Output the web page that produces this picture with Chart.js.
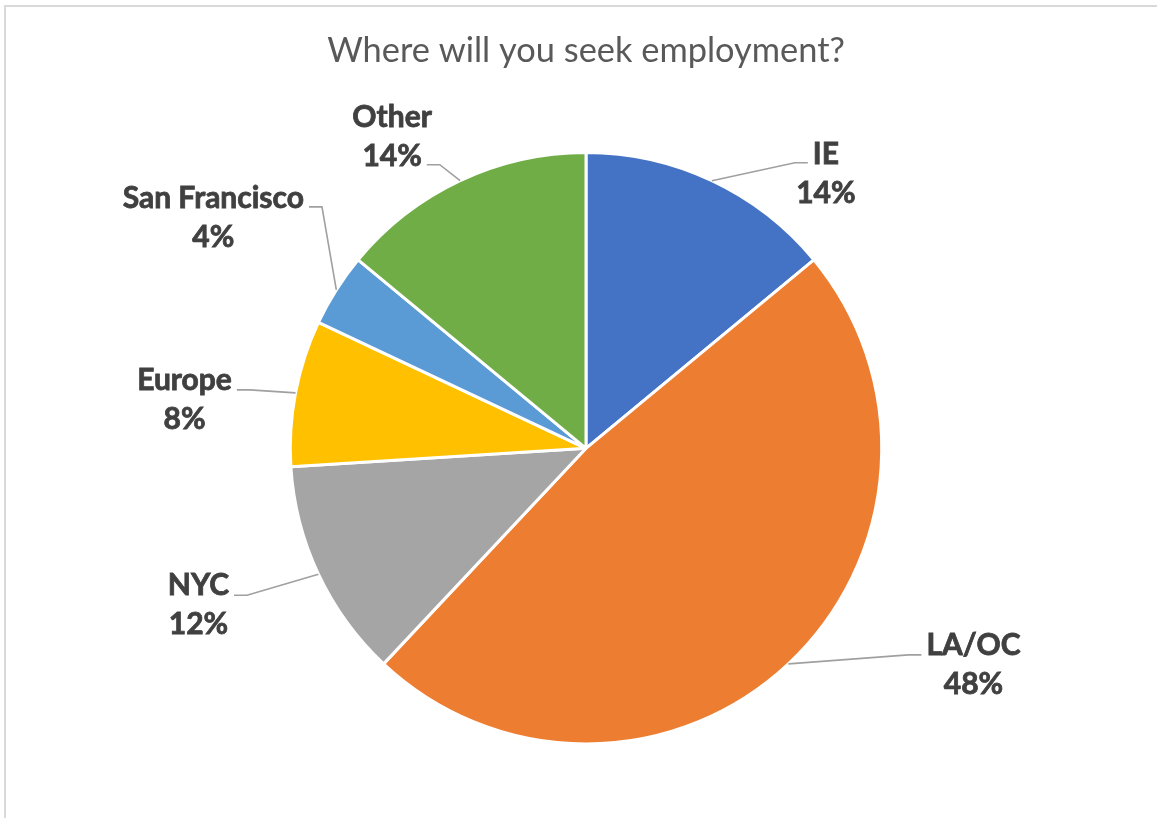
<!DOCTYPE html>
<html>
<head>
<meta charset="utf-8">
<title>Where will you seek employment?</title>
<script src="https://cdn.jsdelivr.net/npm/chart.js@4.4.1/dist/chart.umd.min.js"></script>
<style>
  html, body { margin: 0; padding: 0; background: #fff; }
  #wrap { position: relative; width: 1157px; height: 818px; overflow: hidden; }
</style>
</head>
<body>
<div id="wrap">
  <canvas id="seekChart" width="1157" height="818"></canvas>
</div>
<script>
const regions = ['IE', 'LA/OC', 'NYC', 'Europe', 'San Francisco', 'Other'];
const shares = [14, 48, 12, 8, 4, 14];
const sliceColors = ['#4472C4', '#ED7D31', '#A5A5A5', '#FFC000', '#5B9BD5', '#70AD47'];

// where each label block sits relative to the point on the rim at the slice's middle angle
// side: which side of the text the leader attaches to; stubY: stub height relative to block centre
const labelPlacement = [
  { dx: 114, dy: -7, side: 'left', stubY: -11, line: 0 },
  { dx: 185, dy: 1, side: 'left', stubY: -10, line: 0 },
  { dx: -120, dy: 31, side: 'right', stubY: -10, line: 0 },
  { dx: -111, dy: 7, side: 'right', stubY: -10, line: 0 },
  { dx: -123, dy: -72, side: 'right', stubY: -11, line: 0 },
  { dx: -68, dy: -44, side: 'right', stubY: 28, line: 1 }
];

const LABEL_FONT = 'bold 30px Lato';
const LINE_GAP = 39;

const frame = {
  id: 'frame',
  beforeDraw(chart) {
    const c = chart.ctx;
    c.save();
    c.fillStyle = '#fff';
    c.fillRect(0, 0, chart.width, chart.height);
    c.strokeStyle = '#d9d9d9';
    c.lineWidth = 2;
    c.strokeRect(5, 6, chart.width + 20, chart.height + 20);
    c.restore();
  }
};

const calloutLabels = {
  id: 'calloutLabels',
  afterDatasetsDraw(chart) {
    const c = chart.ctx;
    const arcs = chart.getDatasetMeta(0).data;
    c.save();
    c.font = LABEL_FONT;
    c.textAlign = 'center';
    c.textBaseline = 'middle';
    arcs.forEach((arc, i) => {
      const p = arc.getProps(['x', 'y', 'startAngle', 'endAngle', 'outerRadius'], true);
      const mid = (p.startAngle + p.endAngle) / 2;
      const ex = p.x + Math.cos(mid) * p.outerRadius;
      const ey = p.y + Math.sin(mid) * p.outerRadius;
      const pl = labelPlacement[i];
      const cx = ex + pl.dx;
      const cy = ey + pl.dy;
      const lines = [regions[i], shares[i] + '%'];

      // leader line: short horizontal stub next to the text, then to the rim
      const w = c.measureText(lines[pl.line]).width;
      const sy = cy + pl.stubY;
      const sx0 = pl.side === 'left' ? cx - w / 2 - 5 : cx + w / 2 + 5;
      const sx1 = pl.side === 'left' ? sx0 - 13 : sx0 + 13;
      c.strokeStyle = '#a0a0a0';
      c.lineWidth = 1.6;
      c.beginPath();
      c.moveTo(sx0, sy);
      c.lineTo(sx1, sy);
      c.lineTo(ex, ey);
      c.stroke();

      // heavier bold: fill plus a thin stroke in the same colour
      c.fillStyle = '#404040';
      c.strokeStyle = '#404040';
      c.lineWidth = 0.8;
      lines.forEach((txt, k) => {
        const ty = cy + (k === 0 ? -LINE_GAP / 2 : LINE_GAP / 2);
        c.fillText(txt, cx, ty);
        c.strokeText(txt, cx, ty);
      });
    });
    c.restore();
  }
};

new Chart(document.getElementById('seekChart'), {
  type: 'pie',
  data: {
    labels: regions,
    datasets: [{
      data: shares,
      backgroundColor: sliceColors,
      borderColor: '#ffffff',
      borderWidth: 3
    }]
  },
  options: {
    responsive: false,
    animation: false,
    layout: {
      padding: { left: 288.5, right: 273.5, top: 0, bottom: 72.5 }
    },
    plugins: {
      legend: { display: false },
      tooltip: { enabled: false },
      title: {
        display: true,
        text: 'Where will you seek employment?',
        color: '#595959',
        font: { family: 'Lato', size: 34.4, weight: 'normal', lineHeight: 1.2 },
        padding: { top: 30.4, bottom: 79.4 }
      }
    }
  },
  plugins: [frame, calloutLabels]
});
</script>
</body>
</html>
